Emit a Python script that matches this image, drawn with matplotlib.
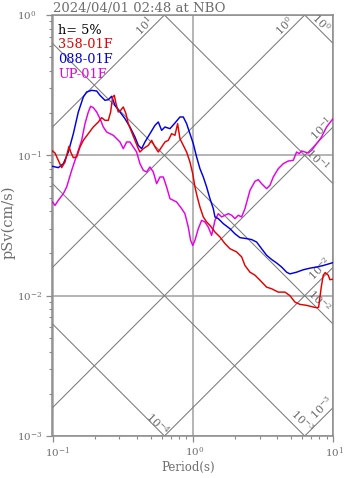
import numpy
import matplotlib
matplotlib.use("Agg")
from matplotlib import pyplot
from matplotlib.ticker import NullFormatter
from matplotlib.transforms import ScaledTranslation

pyplot.rcParams["font.family"] = ["DejaVu Serif"]
pyplot.rcParams["mathtext.fontset"] = "dejavuserif"

# Chart text
title = "2024/04/01 02:48 at NBO"
damping = "h= 5%"
names = ["358-01F", "088-01F", "UP-01F"]
colors = ["#e60000", "#0000e6", "#e600e6"]

# 358-01F component
red_T = [0.100, 0.1042, 0.1100, 0.1162, 0.1228, 0.1311, 0.1348, 0.1408, 0.1487, 0.1571,
         0.1659, 0.1800, 0.1954, 0.2122, 0.2241, 0.2367, 0.2500, 0.2597, 0.2684, 0.2758,
         0.2837, 0.2946, 0.3061, 0.3197, 0.3340, 0.3470, 0.3666, 0.3872, 0.4090, 0.4203,
         0.4440, 0.4820, 0.5091, 0.5378, 0.5680, 0.6000, 0.6337, 0.6693, 0.7070, 0.7467,
         0.7800, 0.8105, 0.8561, 0.9042, 0.9551, 1.000, 1.0368, 1.0773, 1.1256, 1.1889,
         1.2558, 1.3265, 1.4400, 1.5632, 1.6970, 1.8423, 2.0555, 2.2313, 2.3566, 2.5581,
         2.7767, 3.0142, 3.3627, 3.6502, 4.0722, 4.5430, 4.9315, 5.3531, 5.809, 6.482,
         7.231, 7.638, 7.893, 8.246, 8.519, 8.803, 9.246, 9.505, 10.0]
red_sv = [0.1074, 0.1039, 0.0921, 0.0817, 0.0896, 0.1159, 0.1056, 0.0962, 0.0973, 0.1147,
          0.1279, 0.1427, 0.1592, 0.1728, 0.1855, 0.1776, 0.1776, 0.2036, 0.2605, 0.2677,
          0.2335, 0.2036, 0.2093, 0.2211, 0.1982, 0.1681, 0.1467, 0.1279, 0.1116, 0.1056,
          0.1116, 0.1178, 0.1279, 0.1147, 0.1056, 0.1147, 0.1245, 0.1279, 0.1427, 0.1389,
          0.1681, 0.1315, 0.1178, 0.1056, 0.0896, 0.0740, 0.0595, 0.0505, 0.0428, 0.0364,
          0.0335, 0.0317, 0.0284, 0.0262, 0.0235, 0.0216, 0.0205, 0.0189, 0.0164, 0.0147,
          0.0140, 0.0129, 0.0115, 0.0112, 0.0106, 0.0106, 0.0100, 0.0090, 0.00867, 0.00853,
          0.0083, 0.00821, 0.00825, 0.0115, 0.0140, 0.0146, 0.0140, 0.0130, 0.0131]

# 088-01F component
blue_T = [0.100, 0.1100, 0.1195, 0.1297, 0.1408, 0.1528, 0.1659, 0.1752, 0.1902, 0.2065,
          0.2181, 0.2367, 0.2500, 0.2640, 0.2788, 0.3027, 0.3286, 0.3567, 0.3872, 0.4090,
          0.4320, 0.4563, 0.4954, 0.5378, 0.5680, 0.6000, 0.6337, 0.6879, 0.7467, 0.8105,
          0.8561, 0.9042, 0.9551, 1.0088, 1.0656, 1.1256, 1.1889, 1.2558, 1.3265, 1.4011,
          1.4400, 1.5210, 1.6512, 1.8423, 2.0000, 2.1711, 2.4220, 2.6290, 2.8537, 3.0978,
          3.3627, 3.6502, 3.9623, 4.3012, 4.6690, 4.9315, 5.500, 6.138, 6.847, 7.638,
          8.519, 10.0]
blue_sv = [0.0835, 0.0817, 0.0872, 0.1056, 0.1427, 0.2036, 0.2605, 0.2828, 0.2906, 0.2874,
           0.2677, 0.2466, 0.2493, 0.2634, 0.2272, 0.2036, 0.1825, 0.1592, 0.1351, 0.1178,
           0.1116, 0.1245, 0.1427, 0.1636, 0.1728, 0.1507, 0.1592, 0.1549, 0.1700, 0.1876,
           0.1876, 0.1681, 0.1427, 0.1211, 0.0973, 0.0803, 0.0701, 0.0595, 0.0491, 0.0417,
           0.0364, 0.0354, 0.0326, 0.0300, 0.0276, 0.0259, 0.0255, 0.0251, 0.0241, 0.0216,
           0.0194, 0.0181, 0.0171, 0.0160, 0.0147, 0.0143, 0.0147, 0.0153, 0.0157, 0.0160,
           0.0164, 0.0172]

# UP-01F component
mag_T = [0.100, 0.1042, 0.1100, 0.1195, 0.1262, 0.1370, 0.1487, 0.1614, 0.1705, 0.1800,
         0.1871, 0.1954, 0.2065, 0.2181, 0.2303, 0.2432, 0.2569, 0.2713, 0.2867, 0.3027,
         0.3197, 0.3377, 0.3567, 0.3767, 0.3979, 0.4203, 0.4440, 0.4690, 0.4954, 0.5233,
         0.5527, 0.5838, 0.6166, 0.6513, 0.6879, 0.7265, 0.7674, 0.8330, 0.8798, 0.9293,
         0.9657, 1.000, 1.0368, 1.0951, 1.1568, 1.2219, 1.2907, 1.3633, 1.4400, 1.5210,
         1.6066, 1.6970, 1.7926, 1.8934, 2.0000, 2.1125, 2.2313, 2.3566, 2.5581, 2.7767,
         2.9328, 3.0978, 3.3627, 3.5517, 3.7514, 4.0722, 4.4204, 4.7984, 5.2087, 5.500,
         5.745, 5.970, 6.306, 6.662, 7.036, 7.638, 8.290, 8.998, 10.0]
mag_sv = [0.0465, 0.0440, 0.0478, 0.0533, 0.0595, 0.0782, 0.1000, 0.1279, 0.1681, 0.2036,
          0.2235, 0.2187, 0.2036, 0.1825, 0.1592, 0.1467, 0.1427, 0.1389, 0.1315, 0.1245,
          0.1116, 0.1245, 0.1245, 0.1147, 0.1056, 0.0872, 0.0782, 0.0761, 0.0826, 0.0761,
          0.0628, 0.0701, 0.0701, 0.0595, 0.0491, 0.0478, 0.0465, 0.0417, 0.0384, 0.0308,
          0.0248, 0.0228, 0.0248, 0.0300, 0.0344, 0.0335, 0.0308, 0.0269, 0.0344, 0.0384,
          0.0364, 0.0374, 0.0384, 0.0374, 0.0354, 0.0374, 0.0364, 0.0417, 0.0563, 0.0653,
          0.0671, 0.0628, 0.0579, 0.0611, 0.0701, 0.0803, 0.0872, 0.0911, 0.0921, 0.1056,
          0.1028, 0.1074, 0.1056, 0.1039, 0.1086, 0.1211, 0.1351, 0.1592, 0.1825]

# Tripartite guide lines: displacement (cm) and acceleration (cm/s^2)
disp_levels = [1e-4, 1e-3, 1e-2, 1e-1, 1e0]
disp_texts = ["10^{-4}", "10^{-3}", "10^{-2}", "10^{-1}", "10^{0}"]
acc_levels = [1e-3, 1e-2, 1e-1, 1e0, 1e1]
acc_texts = ["10^{-3}", "10^{-2}", "10^{-1}", "10^{0}", "10^{1}"]

T_MIN, T_MAX = 0.1, 10.0
SV_MIN, SV_MAX = 1e-3, 1.0

GRAY_TEXT = "#6e6e6e"
GRAY_AXIS = "#8a8a8a"
GRAY_GRID = "#a0a0a0"
GRAY_DIAG = "#7a7a7a"

W, H = 347, 478
fig = pyplot.figure(figsize=(W / 100, H / 100), dpi=100)
ax = fig.add_axes([52.5 / W, (H - 436) / H, (333 - 52.5) / W, (436 - 15) / H])
ax.set_xscale("log")
ax.set_yscale("log")

# guide lines
t_line = numpy.array([0.01, 100.0])
for d in disp_levels:
    ax.plot(t_line, 2 * numpy.pi * d / t_line, color=GRAY_DIAG, lw=0.75, zorder=1)
for a in acc_levels:
    ax.plot(t_line, a * t_line / (2 * numpy.pi), color=GRAY_DIAG, lw=0.75, zorder=1)

ax.set_xlim(T_MIN, T_MAX)
ax.set_ylim(SV_MIN, SV_MAX)


def px(dx, dy):
    # pixel offsets (y down) to points
    return (dx * 0.72, -dy * 0.72)


# label offsets, pixels from the end of each line
disp_offsets = [(-6.6, -13), (-2.5, -15), (-14, -23), (-15, -24), (-12, -20.5)]
acc_offsets = [(-11, 0), (-13, 1.5), (-12, 1), (-20.5, 11), (-20, 11)]

for d, txt, off in zip(disp_levels, disp_texts, disp_offsets):
    sv_end = 2 * numpy.pi * d / T_MAX
    if sv_end >= SV_MIN:
        xy = (T_MAX, sv_end)
    else:
        xy = (2 * numpy.pi * d / SV_MIN, SV_MIN)
    ax.annotate("$\\mathdefault{%s}$" % txt, xy=xy, xytext=px(*off), textcoords="offset points",
                rotation=-45, ha="center", va="center", fontsize=8, color=GRAY_TEXT,
                annotation_clip=False)

for a, txt, off in zip(acc_levels, acc_texts, acc_offsets):
    t_top = 2 * numpy.pi * SV_MAX / a
    if t_top <= T_MAX:
        xy = (t_top, SV_MAX)
    else:
        xy = (T_MAX, a * T_MAX / (2 * numpy.pi))
    ax.annotate("$\\mathdefault{%s}$" % txt, xy=xy, xytext=px(*off), textcoords="offset points",
                rotation=45, ha="center", va="center", fontsize=8, color=GRAY_TEXT,
                annotation_clip=False)

# grid
ax.grid(True, which="major", color=GRAY_GRID, lw=1.1, zorder=0.5)
ax.set_axisbelow(True)

# spectra
ax.plot(mag_T, mag_sv, color=colors[2], lw=1.05, zorder=3)
ax.plot(red_T, red_sv, color=colors[0], lw=1.05, zorder=4)
ax.plot(blue_T, blue_sv, color=colors[1], lw=1.05, zorder=3.5)

for s in ax.spines.values():
    s.set_color(GRAY_AXIS)
    s.set_linewidth(1.1)

ax.tick_params(which="both", direction="out", color=GRAY_AXIS, labelcolor=GRAY_TEXT,
               top=False, right=False)
ax.tick_params(which="major", length=4, width=0.9, labelsize=7.5)
ax.tick_params(which="minor", length=2.5, width=0.8)
ax.tick_params(axis="y", which="major", pad=21.6)
ax.tick_params(axis="x", which="major", pad=3.0)
ax.xaxis.set_minor_formatter(NullFormatter())
ax.yaxis.set_minor_formatter(NullFormatter())

ax.set_xticks([0.1, 1, 10])
ax.set_xticklabels(["$\\mathdefault{10^{-1}}$", "$\\mathdefault{10^{0}}$", "$\\mathdefault{10^{1}}$"],
                   ha="left")
ax.set_yticks([1e-3, 1e-2, 1e-1, 1])
ax.set_yticklabels(["$\\mathdefault{10^{-3}}$", "$\\mathdefault{10^{-2}}$",
                    "$\\mathdefault{10^{-1}}$", "$\\mathdefault{10^{0}}$"], ha="left")
shift = ScaledTranslation(-7.7 / 100, 0, fig.dpi_scale_trans)
for lab in ax.get_xticklabels():
    lab.set_transform(lab.get_transform() + shift)

# texts
fig.text(53 / W, 1 - 12 / H, title, fontsize=9.5, color=GRAY_TEXT, va="baseline")
fig.text(58 / W, 1 - 34 / H, damping, fontsize=9.3, color="black", va="baseline")
for i, (name, c) in enumerate(zip(names, colors)):
    fig.text(58 / W, 1 - (48.5 + 14.8 * i) / H, name, fontsize=9.3, color=c, va="baseline")

fig.text(188 / W, 1 - 471 / H, "Period(s)", fontsize=8.5, color=GRAY_TEXT,
         ha="center", va="baseline")
fig.text(8 / W, 1 - 222 / H, "pSv(cm/s)", fontsize=10.5, color=GRAY_TEXT,
         ha="center", va="center", rotation=90)

fig.savefig("out.png", dpi=100)
